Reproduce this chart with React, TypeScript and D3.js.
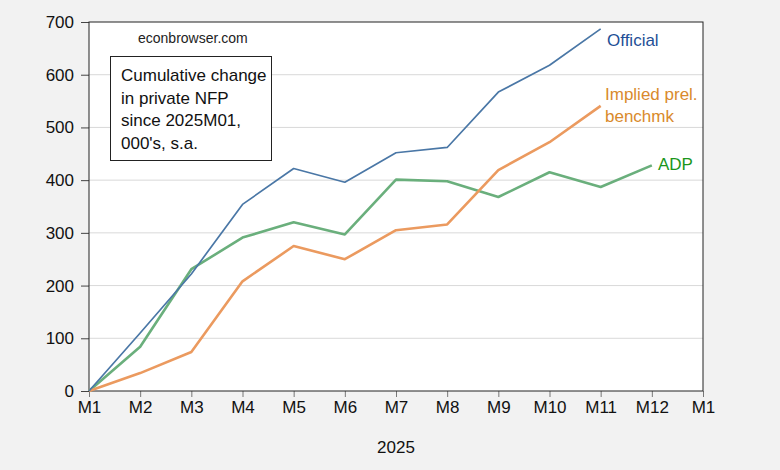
import React, { useEffect, useRef } from 'react';
import * as d3 from 'd3';

// cumulative change in private NFP since 2025M01, thousands
const months = ['M1', 'M2', 'M3', 'M4', 'M5', 'M6', 'M7', 'M8', 'M9', 'M10', 'M11', 'M12', 'M1'];
const official = [0, 110, 222, 354, 422, 396, 452, 462, 567, 618, 687];
const impliedBenchmark = [0, 34, 74, 208, 275, 250, 305, 316, 419, 472, 541];
const adp = [0, 84, 231, 291, 320, 297, 401, 398, 368, 415, 387, 428];
const yTicks = [0, 100, 200, 300, 400, 500, 600, 700];
const noteLines = ['Cumulative change', 'in private NFP', 'since 2025M01,', "000's, s.a."];

const W = 780;
const H = 470;
const FONT = '"Liberation Sans", Arial, sans-serif';

export default function App() {
  const svgRef = useRef<SVGSVGElement>(null);

  useEffect(() => {
    if (!svgRef.current) return;
    const svg = d3.select(svgRef.current);
    svg.selectAll('*').remove();

    const margin = { top: 22, right: 77, bottom: 79, left: 89 };
    const width = W - margin.left - margin.right;
    const height = H - margin.top - margin.bottom;

    svg.append('rect').attr('width', W).attr('height', H).attr('fill', '#f2f2f2');

    const g = svg.append('g').attr('transform', `translate(${margin.left},${margin.top})`);
    g.append('rect').attr('width', width).attr('height', height).attr('fill', '#fff');

    const x = d3.scaleLinear().domain([0, months.length - 1]).range([0, width]);
    const y = d3.scaleLinear().domain([0, 700]).range([height, 0]);

    // grid
    g.selectAll('.grid')
      .data(yTicks.filter(t => t > 0 && t < 700))
      .enter()
      .append('line')
      .attr('x1', 0)
      .attr('x2', width)
      .attr('y1', d => y(d))
      .attr('y2', d => y(d))
      .attr('stroke', '#d9d9d9')
      .attr('stroke-width', 1);

    // y axis
    const yAxis = g.append('g').call(d3.axisLeft(y).tickValues(yTicks).tickSize(8).tickPadding(7));
    yAxis.select('.domain').remove();
    yAxis.selectAll('line').attr('stroke', '#444');
    yAxis.selectAll('text').attr('font-family', FONT).attr('font-size', 17).attr('fill', '#111');

    // x axis
    const xAxis = g.append('g')
      .attr('transform', `translate(0,${height})`)
      .call(
        d3.axisBottom(x)
          .tickValues(d3.range(months.length))
          .tickFormat(i => months[i as number])
          .tickSize(6)
          .tickPadding(4)
      );
    xAxis.select('.domain').remove();
    xAxis.selectAll('line').attr('stroke', '#777');
    xAxis.selectAll('text').attr('font-family', FONT).attr('font-size', 17).attr('fill', '#111');

    // frame
    g.append('rect')
      .attr('width', width)
      .attr('height', height)
      .attr('fill', 'none')
      .attr('stroke', '#222')
      .attr('stroke-width', 1);

    g.append('text')
      .attr('x', x(6))
      .attr('y', height + 62)
      .attr('text-anchor', 'middle')
      .attr('font-family', FONT)
      .attr('font-size', 17)
      .attr('fill', '#111')
      .text('2025');

    const line = d3.line<number>().x((_, i) => x(i)).y(d => y(d));

    const series = [
      { data: adp, color: '#6aaf7c', w: 2.6 },
      { data: impliedBenchmark, color: '#eb9a5f', w: 2.6 },
      { data: official, color: '#4a77a6', w: 1.7 },
    ];
    series.forEach(s => {
      g.append('path')
        .datum(s.data)
        .attr('d', line)
        .attr('fill', 'none')
        .attr('stroke', s.color)
        .attr('stroke-width', s.w)
        .attr('stroke-linejoin', 'round');
    });

    // series labels
    const label = (txt: string, lx: number, ly: number, color: string) =>
      svg.append('text')
        .attr('x', lx)
        .attr('y', ly)
        .attr('font-family', FONT)
        .attr('font-size', 17)
        .attr('fill', color)
        .text(txt);
    label('Official', 607, 46, '#1f4f96');
    label('Implied prel.', 605, 100, '#d98a2c');
    label('benchmk', 605, 122, '#d98a2c');
    label('ADP', 658, 170, '#1b961b');

    // source + note box
    svg.append('text')
      .attr('x', 138)
      .attr('y', 43)
      .attr('font-family', FONT)
      .attr('font-size', 14)
      .attr('fill', '#222')
      .text('econbrowser.com');

    svg.append('rect')
      .attr('x', 110.5)
      .attr('y', 56.5)
      .attr('width', 161)
      .attr('height', 104)
      .attr('fill', '#fff')
      .attr('stroke', '#222')
      .attr('stroke-width', 1);

    noteLines.forEach((t, i) => {
      svg.append('text')
        .attr('x', 121)
        .attr('y', 81 + i * 22.7)
        .attr('font-family', FONT)
        .attr('font-size', 17)
        .attr('fill', '#111')
        .text(t);
    });
  }, []);

  return (
    <svg
      ref={svgRef}
      width={W}
      height={H}
      style={{ position: 'absolute', left: 0, top: 0, display: 'block' }}
    />
  );
}
